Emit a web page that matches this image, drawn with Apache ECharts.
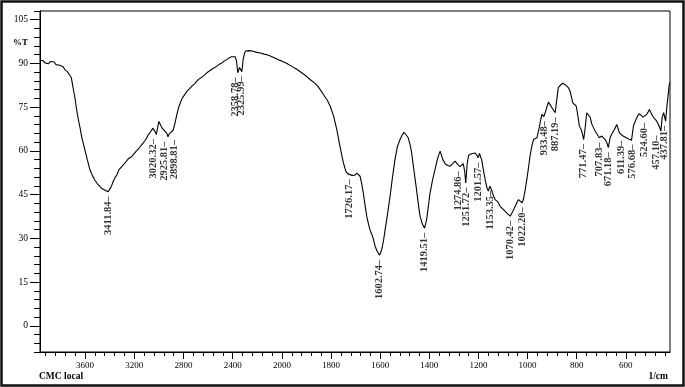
<!DOCTYPE html>
<html><head><meta charset="utf-8">
<script src="https://cdn.jsdelivr.net/npm/echarts@6/dist/echarts.min.js"></script>
<style>html,body{margin:0;padding:0;background:#fff}#c{width:685px;height:387px}</style>
</head><body><div id="c"></div>
<script>
// ---- data (wavenumber in 1/cm, transmittance in %T) ----
const wavenumbers = [
3965,3955,3940,3925,3910,3895,3880,3865,3850,3835,3820,3805,3790,3775,3765,3755,3745,3735,3720,3710,3700,3690,3680,3665,3650,3640,3625,3610,3600,3580,3560,3540,3520,3500,3480,3460,3440,3425,3411.84,3400,3385,3370,3355,3340,3325,3310,3295,3280,3265,3250,3235,3220,3205,3190,3175,3160,3145,3130,3115,3100,3085,3070,3060,3050,3040,3030,3020.32,3010,3000,2990,2975,2960,2945,2935,2925.81,2915,2905,2898.81,2885,2870,2855,2840,2825,2810,2790,2770,2750,2730,2710,2690,2670,2650,2630,2610,2590,2570,2550,2530,2510,2490,2470,2450,2430,2410,2395,2380,2370,2358.78,2345,2335,2325.99,2315,2305,2295,2280,2265,2250,2235,2220,2205,2190,2175,2160,2145,2130,2115,2100,2085,2070,2055,2040,2025,2010,2000,
1980,1960,1940,1920,1900,1886,1870,1855,1845,1830,1815,1804,1790,1777,1765,1750,1740,1733,1726.17,1715,1703,1695,1689,1682,1675,1669,1662,1655,1648,1642,1635,1628,1621,1612,1602.74,1594,1587,1580,1570,1560,1550,1540,1530,1520,1510,1503,1495,1486,1478,1472,1463,1454,1446,1438,1428,1419.51,1411,1404,1397,1387,1377,1366,1356,1345,1335,1325,1316,1305,1295,1285,1274.86,1262,1256,1251.72,1246,1240,1228,1215,1207,1201.57,1196,1187,1180,1173,1166,1160,1153.35,1146,1139,1132,1120,1112,1100,1092,1080,1070.42,1060,1047,1037,1030,1022.20,1017,1010,1003,995,990,983,976,968,962,955,949,942,933.48,925,915,908,901,894,887.19,882,875,866,857,848,840,833,827,822,816,809,802,795,789,780,771.47,766,759,752,745,738,731,725,716,707.83,698,690,684,677,671.18,664,657,650,643,637,631,626,618,611.39,604,596,586,576.68,569,560,552,545,538,530,524.60,517,510,504,497,490,482,474,466,460,457.10,452,446,441,437.81,433,428,424,420
];
const transmittance = [
91.0,90.4,91.0,90.2,90.8,89.9,90.7,90.1,90.5,89.6,90.2,89.4,89.0,88.8,87.9,88.2,87.3,86.9,85.8,85.0,82.5,80.2,77.8,73.5,70.0,68.0,64.5,62.0,60.3,56.8,53.6,51.6,50.0,48.8,47.8,47.0,46.6,46.3,46.0,46.8,47.9,49.6,50.9,51.8,53.5,54.0,54.9,55.6,56.0,57.2,57.3,58.1,58.8,59.6,59.9,61.0,61.4,62.6,63.4,64.3,65.6,66.1,67.0,67.8,67.2,66.6,65.6,68.0,70.1,69.6,67.9,67.2,66.6,66.0,64.8,65.9,66.1,65.3,67.0,69.3,72.3,74.8,76.6,78.1,79.3,80.6,81.4,82.3,83.0,84.0,84.8,85.3,86.0,86.8,87.4,88.0,88.5,89.0,89.7,90.1,90.8,91.3,91.9,92.3,92.8,92.3,91.0,86.8,88.6,88.2,87.2,91.5,93.4,94.3,94.1,94.4,94.1,94.2,93.9,93.8,93.5,93.6,93.2,93.2,93.0,92.9,92.6,92.4,92.1,91.8,91.7,91.2,90.9,90.8,
90.0,89.0,88.0,86.8,85.6,84.5,83.5,82.3,81.1,79.2,77.3,75.4,72.0,67.4,62.0,55.9,53.0,52.2,51.8,51.6,51.7,52.4,52.5,51.3,48.5,45.6,41.5,37.6,35.0,33.0,31.5,29.8,27.3,25.5,24.2,26.1,29.0,33.0,38.5,44.4,51.0,57.0,61.5,63.8,65.5,66.4,65.9,64.5,62.0,59.3,53.5,47.9,42.5,37.6,34.8,33.5,36.4,41.0,45.6,50.0,53.6,57.5,59.9,57.0,55.5,55.0,54.7,55.6,56.5,55.4,54.6,55.6,53.0,49.0,55.5,58.5,59.0,59.3,58.6,57.6,59.1,57.0,53.5,50.2,47.5,46.2,47.9,46.5,44.5,43.3,42.4,41.0,40.0,39.3,38.3,37.6,39.3,41.6,43.3,42.8,42.2,43.3,46.5,50.2,55.0,58.2,61.5,63.9,64.3,64.5,67.0,69.6,72.5,71.8,74.0,76.8,75.8,74.8,74.0,73.1,77.0,81.7,82.6,83.2,82.8,82.2,81.6,80.5,78.8,76.5,75.9,75.4,72.0,68.5,67.0,63.9,67.5,73.1,73.0,71.5,69.1,67.9,66.8,65.6,64.5,65.1,64.6,63.9,62.8,61.1,64.5,65.8,66.8,67.9,69.1,67.5,66.2,65.6,65.1,64.7,64.4,64.0,63.7,68.5,70.5,72.0,72.8,72.2,71.6,71.2,72.3,73.2,74.2,73.0,71.9,71.0,70.2,68.9,67.5,66.8,71.5,73.1,72.5,70.2,75.0,78.8,82.2,83.5
];
const peakLabels = [3411.84,3020.32,2925.81,2898.81,2358.78,2325.99,1726.17,1602.74,1419.51,1274.86,1251.72,1201.57,1153.35,1070.42,1022.20,933.48,887.19,771.47,707.83,671.18,611.39,576.68,524.60,457.10,437.81];
const xTicksHigh = [2400,2800,3200,3600];
const xTicksLow = [600,800,1000,1200,1400,1600,1800,2000];
const yTicks = [0,15,30,45,60,75,90,105];

// ---- layout / style ----
const L = 40, TOP = 11, R = 670, B = 352, SPLIT = 282;
const FONT = '"Liberation Serif","Times New Roman",serif';
// horizontal nudges (px, screen) for crowded peak labels, as in the reference
const labelNudge = { 3020.32: -3, 2925.81: -4, 2898.81: 3, 2358.78: -3, 2325.99: -1, 1274.86: -2, 1251.72: 1, 611.39: -2, 576.68: 1, 457.10: -5, 437.81: -1 };

const hi = [], lo = [];
wavenumbers.forEach((w, i) => {
  const p = [w, transmittance[i]];
  if (w >= 2000) hi.push(p);
  if (w <= 2000) lo.push(p);
});
const tOf = w => transmittance[wavenumbers.indexOf(w)];
const peakItem = w => ({ value: [w, tOf(w)], label: { offset: [0, labelNudge[w] || 0] } });
const peaksHi = peakLabels.filter(w => w > 2000).map(peakItem);
const peaksLo = peakLabels.filter(w => w < 2000).map(peakItem);

const minorHi = [], minorLo = [], minorY = [];
for (let v = 2080; v < 3965; v += 80) if (v % 400) minorHi.push(v);
for (let v = 440; v < 2000; v += 40) if (v % 200) minorLo.push(v);
for (let v = -9; v <= 108; v += 3) if (v % 15) minorY.push(v);

const black = '#000';
function xAx(grid, min, max, major, minor, isMinor) {
  return {
    gridIndex: grid, type: 'value', min: min, max: max, inverse: true, position: 'bottom',
    axisLine: { show: !isMinor, onZero: false, lineStyle: { color: black, width: 1 } },
    axisTick: { show: true, customValues: isMinor ? minor : major, length: isMinor ? 4 : 7, lineStyle: { color: black, width: 1 } },
    axisLabel: isMinor ? { show: false } : { show: true, customValues: major, formatter: v => String(v), color: black, fontFamily: FONT, fontSize: 9, margin: 9 },
    splitLine: { show: false }
  };
}
function yAx(grid, isMinor, hidden) {
  return {
    gridIndex: grid, type: 'value', min: -9, max: 108, position: 'left', show: !hidden,
    axisLine: { show: !isMinor, onZero: false, lineStyle: { color: black, width: 1 } },
    axisTick: { show: true, customValues: isMinor ? minorY : yTicks, length: isMinor ? 6 : 10, lineStyle: { color: black, width: 1 } },
    axisLabel: isMinor ? { show: false } : { show: true, customValues: yTicks, formatter: v => String(v), color: black, fontFamily: FONT, fontSize: 9.5, margin: 12 },
    splitLine: { show: false }
  };
}
const peakLabel = {
  show: true, rotate: 90, position: 'bottom', distance: 4, align: 'right', verticalAlign: 'middle',
  formatter: p => p.value[0].toFixed(2) + '\u2013',
  fontFamily: FONT, fontWeight: 'bold', fontSize: 10.5, color: black
};

const chart = echarts.init(document.getElementById('c'), null, { renderer: 'canvas' });
chart.setOption({
  animation: false,
  backgroundColor: '#fff',
  grid: [
    { left: L, top: TOP, width: SPLIT - L, height: B - TOP },
    { left: SPLIT, top: TOP, width: R - SPLIT, height: B - TOP }
  ],
  xAxis: [
    xAx(0, 2000, 3965, xTicksHigh, minorHi, false),
    xAx(0, 2000, 3965, xTicksHigh, minorHi, true),
    xAx(1, 420, 2000, xTicksLow, minorLo, false),
    xAx(1, 420, 2000, xTicksLow, minorLo, true)
  ],
  yAxis: [yAx(0, false, false), yAx(0, true, false), yAx(1, false, true)],
  series: [
    { type: 'line', xAxisIndex: 0, yAxisIndex: 0, data: hi, showSymbol: false, lineStyle: { color: black, width: 1.1 } },
    { type: 'line', xAxisIndex: 2, yAxisIndex: 2, data: lo, showSymbol: false, lineStyle: { color: black, width: 1.1 } },
    { type: 'scatter', xAxisIndex: 0, yAxisIndex: 0, data: peaksHi, symbolSize: 1, itemStyle: { color: 'rgba(0,0,0,0)' }, label: peakLabel },
    { type: 'scatter', xAxisIndex: 2, yAxisIndex: 2, data: peaksLo, symbolSize: 1, itemStyle: { color: 'rgba(0,0,0,0)' }, label: peakLabel }
  ],
  graphic: [
    { type: 'rect', shape: { x: L, y: TOP, width: R - L, height: B - TOP }, style: { fill: 'none', stroke: black, lineWidth: 1 }, silent: true },
    { type: 'rect', shape: { x: 1.5, y: 1.5, width: 682, height: 384 }, style: { fill: 'none', stroke: '#111', lineWidth: 2.5 }, silent: true },
    { type: 'text', style: { text: '%T', x: 13, y: 43, font: 'bold 9px ' + FONT, fill: black, textVerticalAlign: 'middle' } },
    { type: 'text', style: { text: 'CMC local', x: 39, y: 377, font: 'bold 9.5px ' + FONT, fill: black, textVerticalAlign: 'middle' } },
    { type: 'text', style: { text: '1/cm', x: 668, y: 377, font: 'bold 9.5px ' + FONT, fill: black, textAlign: 'right', textVerticalAlign: 'middle' } }
  ]
});
</script></body></html>
